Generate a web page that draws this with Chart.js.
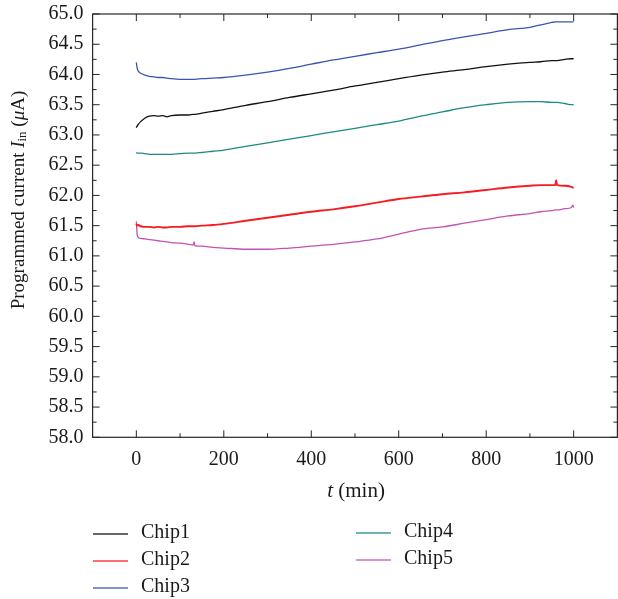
<!DOCTYPE html>
<html lang="en">
<head>
  <meta charset="UTF-8">
  <title>Programmed current vs time</title>
  <script src="https://cdn.jsdelivr.net/npm/chart.js"></script>
  <style>
    body {
      margin: 0;
      background: #fff;
    }
    .wrap {
      position: relative;
      width: 618px;
      height: 599px;
    }
  </style>
</head>
<body>
  <div class="wrap">
    <canvas id="currentChart"></canvas>
  </div>

  <script>
    // Sampling times (min)
    const minutes = [0, 2, 5, 10, 20, 30, 40, 50, 60, 70, 80, 100, 120, 130, 132, 134, 150, 175, 200,
      250, 300, 350, 400, 450, 500, 550, 600, 650, 700, 750, 800, 850, 900, 925, 950, 958, 960, 962,
      980, 995, 998, 1000];

    // Programmed current per chip (uA)
    const chip1 = [63.12, 63.15, 63.18, 63.22, 63.28, 63.31, 63.32, 63.31, 63.32, 63.30, 63.32, 63.33,
      63.33, 63.34, 63.34, 63.34, 63.36, 63.39, 63.42, 63.49, 63.55, 63.62, 63.68, 63.74, 63.81, 63.87,
      63.93, 63.99, 64.04, 64.08, 64.13, 64.17, 64.20, 64.21, 64.23, 64.23, 64.23, 64.23, 64.25, 64.26,
      64.26, 64.26];
    const chip2 = [61.53, 61.50, 61.51, 61.49, 61.48, 61.48, 61.47, 61.48, 61.47, 61.47, 61.48, 61.48,
      61.49, 61.49, 61.49, 61.49, 61.50, 61.51, 61.53, 61.58, 61.63, 61.68, 61.73, 61.77, 61.82, 61.88,
      61.94, 61.98, 62.02, 62.05, 62.09, 62.13, 62.16, 62.17, 62.17, 62.17, 62.25, 62.17, 62.16, 62.14,
      62.13, 62.13];
    const chip3 = [64.20, 64.10, 64.05, 64.02, 63.99, 63.97, 63.96, 63.95, 63.95, 63.94, 63.93, 63.92,
      63.92, 63.92, 63.92, 63.92, 63.93, 63.94, 63.95, 63.99, 64.04, 64.10, 64.17, 64.24, 64.30, 64.36,
      64.42, 64.49, 64.56, 64.62, 64.68, 64.74, 64.78, 64.82, 64.86, 64.87, 64.87, 64.87, 64.87, 64.87,
      64.87, 64.87];
    const chip4 = [62.71, 62.70, 62.70, 62.70, 62.69, 62.68, 62.68, 62.68, 62.68, 62.68, 62.68, 62.69,
      62.70, 62.70, 62.70, 62.70, 62.71, 62.73, 62.75, 62.81, 62.87, 62.93, 62.99, 63.05, 63.11, 63.17,
      63.23, 63.31, 63.38, 63.45, 63.50, 63.54, 63.55, 63.55, 63.54, 63.54, 63.54, 63.54, 63.52, 63.50,
      63.50, 63.50];
    const chip5 = [61.57, 61.35, 61.30, 61.29, 61.28, 61.27, 61.26, 61.25, 61.24, 61.23, 61.22, 61.21,
      61.19, 61.18, 61.23, 61.17, 61.16, 61.14, 61.13, 61.11, 61.11, 61.13, 61.16, 61.19, 61.23, 61.28,
      61.36, 61.44, 61.48, 61.54, 61.60, 61.66, 61.70, 61.73, 61.75, 61.76, 61.76, 61.76, 61.78, 61.80,
      61.84, 61.80];

    const chipNames = ['Chip1', 'Chip2', 'Chip3', 'Chip4', 'Chip5'];
    const chipColors = ['#111111', '#f51c22', '#3b55ad', '#1e8a84', '#c253b4'];
    const chipSeries = [chip1, chip2, chip3, chip4, chip5];

    // Axis ticks
    const xMajor = [0, 200, 400, 600, 800, 1000];
    const xMinor = [100, 300, 500, 700, 900];
    const yMajor = [58, 58.5, 59, 59.5, 60, 60.5, 61, 61.5, 62, 62.5, 63, 63.5, 64, 64.5, 65];

    const serif = '"Liberation Serif", "DejaVu Serif", serif';

    // write mixed-style text (italic, subscript) centred on (cx, cy)
    function drawRich(ctx, parts, cx, cy, angle) {
      ctx.save();
      ctx.translate(cx, cy);
      ctx.rotate(angle);
      let total = 0;
      parts.forEach(p => { ctx.font = p.font; total += ctx.measureText(p.text).width; });
      let x = -total / 2;
      ctx.fillStyle = '#1a1a1a';
      ctx.textBaseline = 'middle';
      ctx.textAlign = 'left';
      parts.forEach(p => {
        ctx.font = p.font;
        ctx.fillText(p.text, x, p.dy || 0);
        x += ctx.measureText(p.text).width;
      });
      ctx.restore();
    }

    // no extra room for end labels: plot box is placed by layout padding only
    function noEdgePadding(s) {
      s.paddingTop = 0;
      s.paddingBottom = 0;
      s.paddingLeft = 0;
      s.paddingRight = 0;
    }

    // frame on all four sides with inward ticks, axis titles and legend
    const framePlugin = {
      id: 'frame',
      afterDatasetsDraw(chart) {
        const { ctx, chartArea: a, scales: { x, y } } = chart;
        ctx.save();
        ctx.strokeStyle = '#262626';
        ctx.lineWidth = 1.2;
        ctx.strokeRect(a.left, a.top, a.right - a.left, a.bottom - a.top);

        ctx.lineWidth = 1;
        ctx.beginPath();
        const xTick = (v, len) => {
          const px = x.getPixelForValue(v);
          ctx.moveTo(px, a.bottom); ctx.lineTo(px, a.bottom - len);
          ctx.moveTo(px, a.top); ctx.lineTo(px, a.top + len);
        };
        const yTick = (v, len) => {
          const py = y.getPixelForValue(v);
          ctx.moveTo(a.left, py); ctx.lineTo(a.left + len, py);
          ctx.moveTo(a.right, py); ctx.lineTo(a.right - len, py);
        };
        xMajor.forEach(v => xTick(v, 7));
        xMinor.forEach(v => xTick(v, 4));
        yMajor.forEach(v => { yTick(v, 7); if (v < 65) yTick(v + 0.25, 4); });
        ctx.stroke();
        ctx.restore();
      },
      afterDraw(chart) {
        const ctx = chart.ctx;
        const base = '19px ' + serif;
        const ital = 'italic 19px ' + serif;

        drawRich(ctx, [
          { text: 'Programmed current ', font: base },
          { text: 'I', font: ital },
          { text: 'in', font: '13px ' + serif, dy: 4 },
          { text: ' (', font: base },
          { text: 'μ', font: ital },
          { text: 'A)', font: base }
        ], 19, 200, -Math.PI / 2);

        drawRich(ctx, [
          { text: 't', font: 'italic 21px ' + serif },
          { text: ' (min)', font: '21px ' + serif }
        ], 356, 491, 0);

        // legend: Chip1-3 in the left column, Chip4-5 in the right
        const slots = [
          [93, 534], [93, 561], [93, 588], [356, 533], [356, 560]
        ];
        ctx.save();
        ctx.font = '20px ' + serif;
        ctx.textBaseline = 'middle';
        chipNames.forEach((name, i) => {
          const [lx, ly] = slots[i];
          ctx.strokeStyle = chipColors[i];
          ctx.globalAlpha = 0.85;
          ctx.lineWidth = 1.6;
          ctx.beginPath();
          ctx.moveTo(lx, ly);
          ctx.lineTo(lx + 35, ly);
          ctx.stroke();
          ctx.globalAlpha = 1;
          ctx.fillStyle = '#1a1a1a';
          ctx.fillText(name, lx + 48, ly - 1);
        });
        ctx.restore();
      }
    };

    new Chart(document.getElementById('currentChart'), {
      type: 'line',
      data: {
        datasets: chipNames.map((name, i) => ({
          label: name,
          data: minutes.map((t, k) => ({ x: t, y: chipSeries[i][k] })),
          borderColor: chipColors[i],
          borderWidth: i === 1 ? 1.9 : 1.3,
          pointRadius: 0,
          cubicInterpolationMode: 'monotone',
          fill: false
        }))
      },
      options: {
        responsive: true,
        maintainAspectRatio: false,
        animation: false,
        layout: { padding: { top: 14, right: 0.6, left: 0, bottom: 0 } },
        plugins: {
          legend: { display: false },
          tooltip: { enabled: false }
        },
        scales: {
          x: {
            type: 'linear',
            min: -100,
            max: 1100,
            afterBuildTicks: s => { s.ticks = xMajor.map(v => ({ value: v })); },
            afterFit: s => { s.height = 599 - 437.3; noEdgePadding(s); },
            grid: { display: false, drawTicks: false },
            border: { display: false },
            ticks: {
              padding: 10,
              maxRotation: 0,
              autoSkip: false,
              color: '#1a1a1a',
              font: { family: serif, size: 20 },
              callback: v => String(v)
            }
          },
          y: {
            min: 58,
            max: 65,
            afterBuildTicks: s => { s.ticks = yMajor.map(v => ({ value: v })); },
            afterFit: s => { s.width = 92.6; noEdgePadding(s); },
            grid: { display: false, drawTicks: false },
            border: { display: false },
            ticks: {
              padding: 9,
              autoSkip: false,
              color: '#1a1a1a',
              font: { family: serif, size: 20 },
              callback: v => v.toFixed(1)
            }
          }
        }
      },
      plugins: [framePlugin]
    });
  </script>
</body>
</html>
